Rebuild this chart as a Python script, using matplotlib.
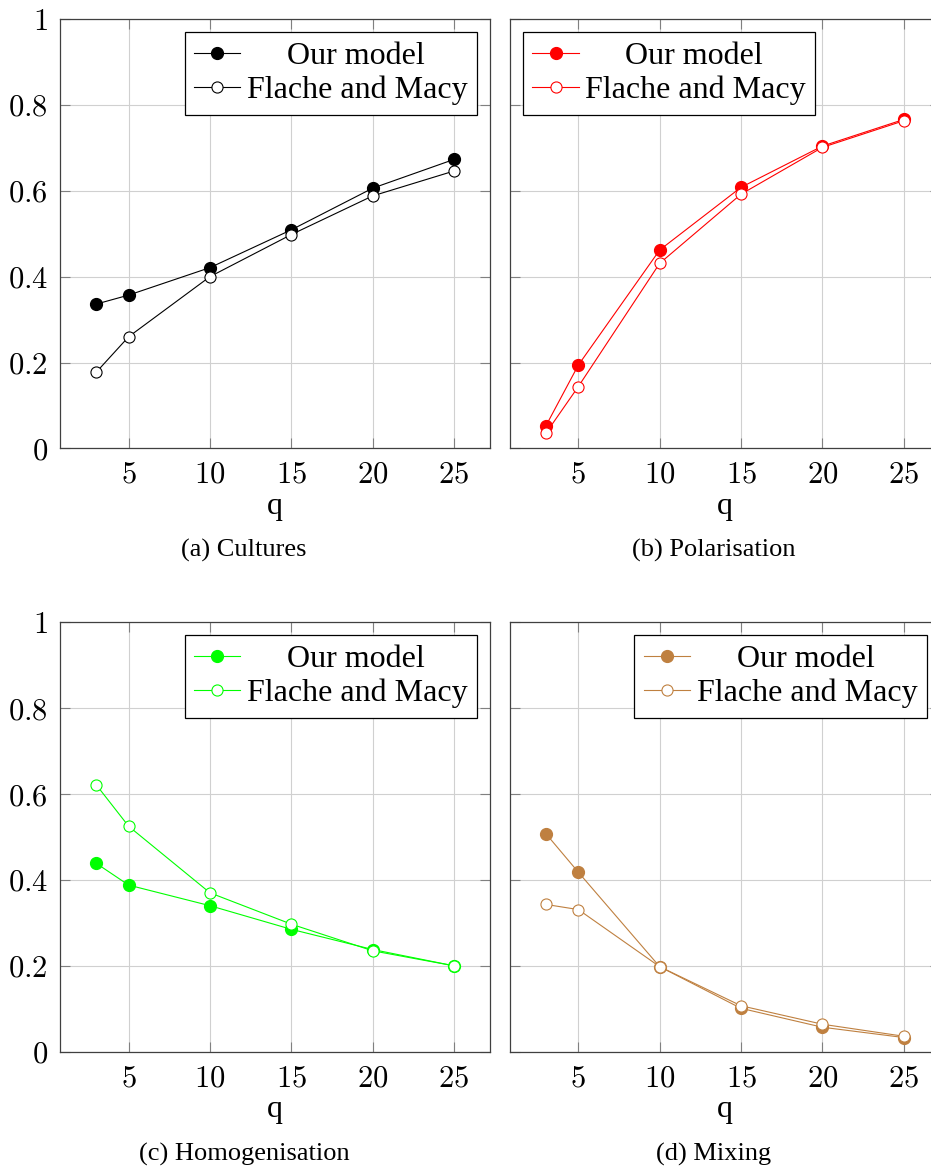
import matplotlib
matplotlib.use("Agg")
import matplotlib.pyplot as plt

plt.rcParams['mathtext.fontset'] = 'cm'
plt.rcParams['font.family'] = ['Liberation Serif', 'DejaVu Serif']

q_values = [3, 5, 10, 15, 20, 25]

cultures_ours = [0.336, 0.357, 0.421, 0.509, 0.606, 0.673]
cultures_fm = [0.177, 0.260, 0.400, 0.498, 0.588, 0.646]

polar_ours = [0.052, 0.194, 0.462, 0.608, 0.704, 0.766]
polar_fm = [0.035, 0.144, 0.431, 0.592, 0.701, 0.763]

homog_ours = [0.439, 0.388, 0.340, 0.285, 0.238, 0.200]
homog_fm = [0.622, 0.525, 0.370, 0.297, 0.235, 0.200]

mixing_ours = [0.508, 0.418, 0.198, 0.101, 0.057, 0.033]
mixing_fm = [0.343, 0.331, 0.198, 0.107, 0.064, 0.036]

x_ticks = [5, 10, 15, 20, 25]
x_tick_labels = ['5', '10', '15', '20', '25']
y_ticks = [0, 0.2, 0.4, 0.6, 0.8, 1.0]
y_tick_labels = ['0', '0.2', '0.4', '0.6', '0.8', '1']

legend_labels = ['     Our model', 'Flache and Macy']
captions = ['(a) Cultures', '(b) Polarisation', '(c) Homogenisation', '(d) Mixing']
x_label = 'q'

panels = [
    (cultures_ours, cultures_fm, 'black', 'upper right', True),
    (polar_ours, polar_fm, '#ff0000', 'upper left', False),
    (homog_ours, homog_fm, '#00ff00', 'upper right', True),
    (mixing_ours, mixing_fm, '#bf8040', 'upper right', False),
]

W, H = 931, 1169
fig = plt.figure(figsize=(W / 100, H / 100), dpi=100)

ax_w = 429.5
ax_h = 429.4
lefts = [60.3, 510.0]
tops = [19.0, 622.3]
caption_x = [244, 714]
caption_y_off = 102.5

for i, (ours, fm, color, loc, show_y) in enumerate(panels):
    r, c = divmod(i, 2)
    left = lefts[c]
    top = tops[r]
    ax = fig.add_axes([left / W, 1 - (top + ax_h) / H, ax_w / W, ax_h / H])
    ax.plot(q_values, ours, color=color, lw=0.8, marker='o', ms=8.5,
            mfc=color, mec=color, label=legend_labels[0], zorder=3)
    ax.plot(q_values, fm, color=color, lw=0.8, marker='o', ms=8,
            mfc='white', mec=color, mew=0.8, label=legend_labels[1], zorder=3)
    ax.set_xlim(0.8, 27.2)
    ax.set_ylim(0, 1)
    ax.set_xticks(x_ticks)
    ax.set_xticklabels(['$' + t + '$' for t in x_tick_labels])
    ax.set_yticks(y_ticks)
    if show_y:
        ax.set_yticklabels(['$' + t + '$' for t in y_tick_labels])
    else:
        ax.set_yticklabels([])
    ax.tick_params(direction='in', length=7, width=0.8, color='#808080',
                   top=True, right=True, labelsize=22, pad=9)
    ax.grid(True, color='#d0d0d0', lw=0.8, zorder=0)
    ax.set_axisbelow(True)
    for sp in ax.spines.values():
        sp.set_color('#404040')
        sp.set_linewidth(0.9)
    ax.set_xlabel(x_label, fontsize=23, va='center')
    ax.xaxis.set_label_coords(0.5, -(506.5 - 448.3) / ax_h)
    leg = ax.legend(loc=loc, fontsize=23, frameon=True, fancybox=False,
                    edgecolor='black', framealpha=1, borderaxespad=0.4,
                    handlelength=1.45, handletextpad=0.2, labelspacing=0.15,
                    borderpad=0.3)
    leg.get_frame().set_linewidth(0.9)
    fig.text(caption_x[c] / W, 1 - (top + ax_h + caption_y_off) / H, captions[i],
             fontsize=19, ha='center', va='center')

fig.savefig('out.png', dpi=100)
